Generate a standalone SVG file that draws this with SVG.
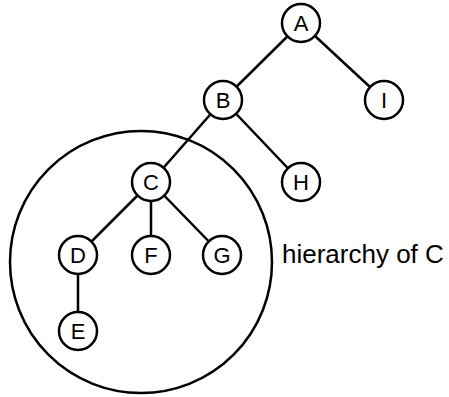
<svg xmlns="http://www.w3.org/2000/svg" width="449" height="397" viewBox="0 0 449 397">
<style>
.n circle{fill:#fff;stroke:#000;stroke-width:2.5}
.n text{font-family:"Liberation Sans",Arial,sans-serif;font-size:22px;text-anchor:middle;fill:#000}
.e line{stroke:#000;stroke-width:2.5}
.lbl{font-family:"Liberation Sans",Arial,sans-serif;font-size:26px;fill:#000}
</style>
<rect width="449" height="397" fill="#fff"/>
<g id="hierarchy"><circle cx="141" cy="262" r="131" fill="none" stroke="#000" stroke-width="2.5"/></g>
<g class="e" id="connectors">
<line x1="301" y1="23" x2="223" y2="100"/>
<line x1="301" y1="23" x2="384" y2="100"/>
<line x1="223" y1="100" x2="151" y2="182"/>
<line x1="223" y1="100" x2="301" y2="182"/>
<line x1="151" y1="182" x2="78" y2="255"/>
<line x1="151" y1="182" x2="151" y2="255"/>
<line x1="151" y1="182" x2="222" y2="255"/>
<line x1="78" y1="255" x2="78" y2="331"/>
</g>
<g class="n" id="A"><circle cx="301" cy="23" r="19"/><text x="301" y="31">A</text></g>
<g class="n" id="B"><circle cx="223" cy="100" r="19"/><text x="223" y="108">B</text></g>
<g class="n" id="I"><circle cx="384" cy="100" r="19"/><text x="384" y="108">I</text></g>
<g class="n" id="H"><circle cx="301" cy="182" r="19"/><text x="301" y="190">H</text></g>
<g class="n" id="C"><circle cx="151" cy="182" r="19"/><text x="151" y="190">C</text></g>
<g class="n" id="D"><circle cx="78" cy="255" r="19"/><text x="78" y="263">D</text></g>
<g class="n" id="F"><circle cx="151" cy="255" r="19"/><text x="151" y="263">F</text></g>
<g class="n" id="G"><circle cx="222" cy="255" r="19"/><text x="222" y="263">G</text></g>
<g class="n" id="E"><circle cx="78" cy="331" r="19"/><text x="78" y="339">E</text></g>
<text class="lbl" x="282" y="263">hierarchy of C</text>
</svg>
